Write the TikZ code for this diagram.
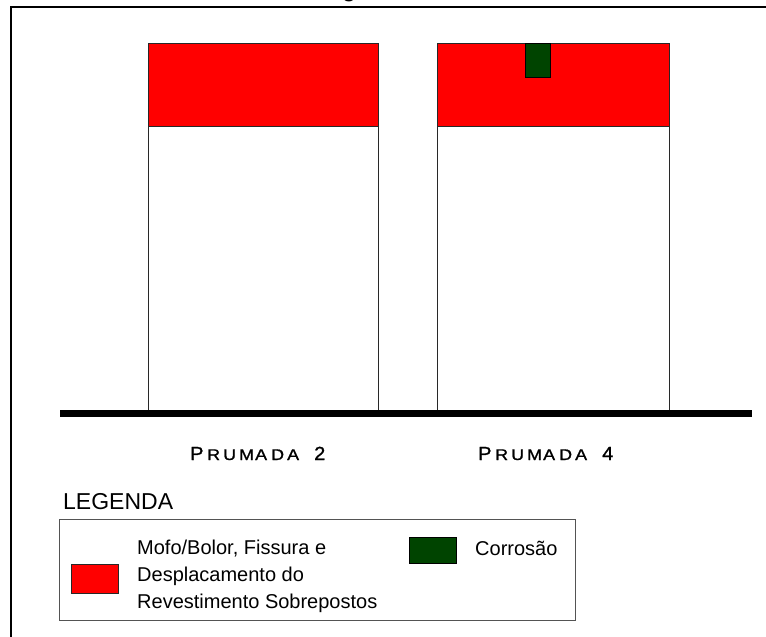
\documentclass[tikz,border=0pt]{standalone}
\usepackage{fontspec}
\usepackage{graphicx}
\setmainfont{Liberation Sans}
\newfontfamily\cadfont[FakeBold=1.2]{Liberation Sans}
\definecolor{molred}{RGB}{255,0,0}
\definecolor{corgreen}{RGB}{0,68,0}
\definecolor{edgegray}{RGB}{40,40,40}
\newcommand{\cadbig}[1]{\makebox[17pt][l]{\fontsize{19}{20}\selectfont\scalebox{1.05}[1]{#1}}}
\newcommand{\cadsm}[1]{\makebox[16pt][l]{\fontsize{15.5}{20}\selectfont\scalebox{1.15}[1]{#1}}}
\newcommand{\cadend}[1]{{\fontsize{19}{20}\selectfont\scalebox{1.05}[1]{#1}}}
\newcommand{\prumada}[1]{\cadbig{P}\cadsm{R}\cadsm{U}\cadsm{M}\cadsm{A}\cadsm{D}\cadsm{A}\hspace{11pt}\cadend{#1}}
\begin{document}
\begin{tikzpicture}[x=1pt,y=-1pt,
  pillar/.style={draw=edgegray,line width=0.9pt,fill=white},
  redzone/.style={draw=edgegray,line width=0.9pt,fill=molred},
  greenzone/.style={draw=black,line width=0.9pt,fill=corgreen},
  frameline/.style={line width=2pt,black},
  groundline/.style={line width=7pt,black},
  cadlabel/.style={anchor=base west,inner sep=0pt,font=\cadfont},
  legtext/.style={anchor=base west,inner sep=0pt,font=\fontsize{20}{27}\selectfont},
]
\useasboundingbox (0,0) rectangle (766,637);
% cut-off title
\node[anchor=base,inner sep=0pt,font=\fontsize{26}{30}\selectfont] (title) at (349,-3) {g};
% frame
\coordinate (ftl) at (11,7);
\coordinate (fbl) at (11,640);
\coordinate (ftr) at (770,7);
\draw[frameline] (fbl) -- (ftl) -- (ftr);
% pillars
\node[pillar,minimum width=230pt,minimum height=368pt,anchor=north west,inner sep=0pt] (p2) at (148,43) {};
\node[redzone,minimum width=230pt,minimum height=83pt,anchor=north west,inner sep=0pt] (p2r) at (148,43) {};
\node[pillar,minimum width=232pt,minimum height=368pt,anchor=north west,inner sep=0pt] (p4) at (437,43) {};
\node[redzone,minimum width=232pt,minimum height=83pt,anchor=north west,inner sep=0pt] (p4r) at (437,43) {};
\node[greenzone,minimum width=25pt,minimum height=34pt,anchor=north west,inner sep=0pt] (p4g) at (525,43) {};
% ground
\coordinate (gl) at (60,413.5);
\coordinate (gr) at (752,413.5);
\draw[groundline] (gl) -- (gr);
% labels
\node[cadlabel] (l2) at (190,460) {\prumada{2}};
\node[cadlabel] (l4) at (478,460) {\prumada{4}};
% legend
\node[anchor=base west,inner sep=0pt,font=\fontsize{23}{26}\selectfont] (leg) at (63,509) {LEGENDA};
\node[draw=edgegray!80,line width=1pt,minimum width=516pt,minimum height=101pt,anchor=north west,inner sep=0pt] (legbox) at (59,519) {};
\node[redzone,minimum width=47pt,minimum height=29pt,anchor=north west,inner sep=0pt] (swr) at (71,564) {};
\node[greenzone,minimum width=47pt,minimum height=26pt,anchor=north west,inner sep=0pt] (swg) at (409,537) {};
\node[legtext] (t1) at (137,554) {Mofo/Bolor, Fissura e};
\node[legtext] (t2) at (137,581) {Desplacamento do};
\node[legtext] (t3) at (137,608) {Revestimento Sobrepostos};
\node[legtext] (t4) at (475,555) {Corrosão};
\end{tikzpicture}
\end{document}
